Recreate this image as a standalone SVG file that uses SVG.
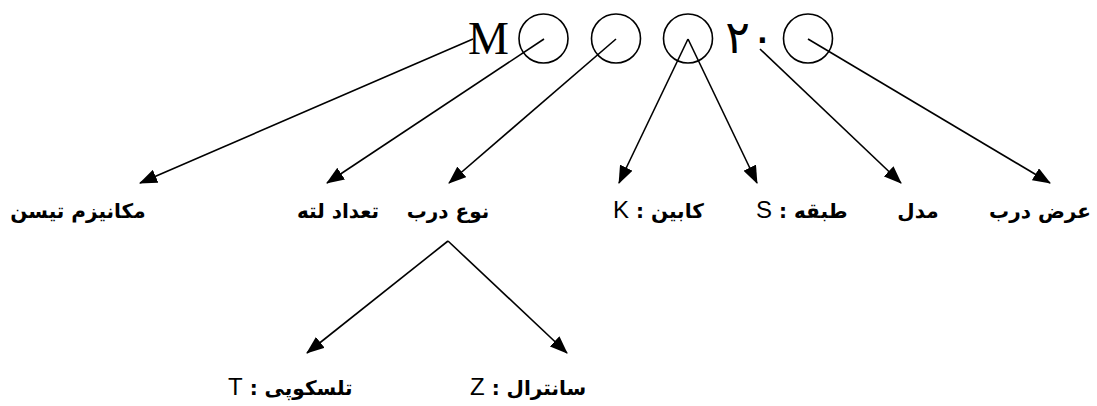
<svg xmlns="http://www.w3.org/2000/svg" width="1097" height="406" viewBox="0 0 1097 406">
  <style>
    .code { font-family: "Liberation Serif", "DejaVu Serif", serif; font-size: 46px; fill: #000; }
    .digits { font-family: "DejaVu Sans", sans-serif; font-size: 46px; fill: #000; }
    .slot { fill: none; stroke: #000; stroke-width: 1.6; }
    .lbl { font-family: "DejaVu Sans", sans-serif; font-size: 20px; font-weight: bold; fill: #000; }
    .lat { font-family: "Liberation Sans", Arial, sans-serif; font-size: 24px; font-weight: normal; }
    .conn line { stroke: #000; stroke-width: 1.6; }
  </style>
  <defs>
    <marker id="ah" viewBox="0 0 18 14" refX="17" refY="7" markerWidth="18" markerHeight="14" markerUnits="userSpaceOnUse" orient="auto">
      <path d="M0,0 L18,7 L0,14 z" fill="#000"/>
    </marker>
  </defs>
  <rect width="1097" height="406" fill="#fff"/>

  <!-- model code: M + three slots + 20 + one slot -->
  <g id="code">
    <text class="code" x="468" y="54">M</text>
    <circle class="slot" cx="543.5" cy="38.5" r="24.5"/>
    <circle class="slot" cx="616" cy="38.5" r="24.5"/>
    <circle class="slot" cx="688" cy="38.5" r="24.5"/>
    <text class="digits" x="750" y="53" text-anchor="middle">۲۰</text>
    <circle class="slot" cx="808" cy="38.5" r="24.5"/>
  </g>

  <!-- connectors -->
  <g id="connectors" class="conn">
    <line x1="473" y1="39" x2="140" y2="183" marker-end="url(#ah)"/>
    <line x1="544" y1="39" x2="327" y2="183" marker-end="url(#ah)"/>
    <line x1="616" y1="39" x2="449" y2="183" marker-end="url(#ah)"/>
    <line x1="688" y1="39" x2="619" y2="183" marker-end="url(#ah)"/>
    <line x1="688" y1="39" x2="757" y2="183" marker-end="url(#ah)"/>
    <line x1="760" y1="49" x2="901" y2="183" marker-end="url(#ah)"/>
    <line x1="808" y1="39" x2="1050" y2="183" marker-end="url(#ah)"/>
    <line x1="448" y1="241" x2="307" y2="353" marker-end="url(#ah)"/>
    <line x1="448" y1="241" x2="567" y2="353" marker-end="url(#ah)"/>
  </g>

  <!-- labels -->
  <g id="n-mechanism"><text class="lbl" x="78" y="218" text-anchor="middle">مکانیزم تیسن</text></g>
  <g id="n-panels"><text class="lbl" x="338" y="218" text-anchor="middle">تعداد لته</text></g>
  <g id="n-doortype"><text class="lbl" x="448" y="218" text-anchor="middle">نوع درب</text></g>
  <g id="n-cabin"><text class="lbl" x="613" y="218"><tspan class="lat">K</tspan> : کابین</text></g>
  <g id="n-floor"><text class="lbl" x="756" y="218"><tspan class="lat">S</tspan> : طبقه</text></g>
  <g id="n-model"><text class="lbl" x="918" y="218" text-anchor="middle">مدل</text></g>
  <g id="n-width"><text class="lbl" x="1040" y="218" text-anchor="middle">عرض درب</text></g>
  <g id="n-telescopic"><text class="lbl" x="228" y="395"><tspan class="lat">T</tspan> : تلسکوپی</text></g>
  <g id="n-central"><text class="lbl" x="470" y="395"><tspan class="lat">Z</tspan> : سانترال</text></g>
</svg>
